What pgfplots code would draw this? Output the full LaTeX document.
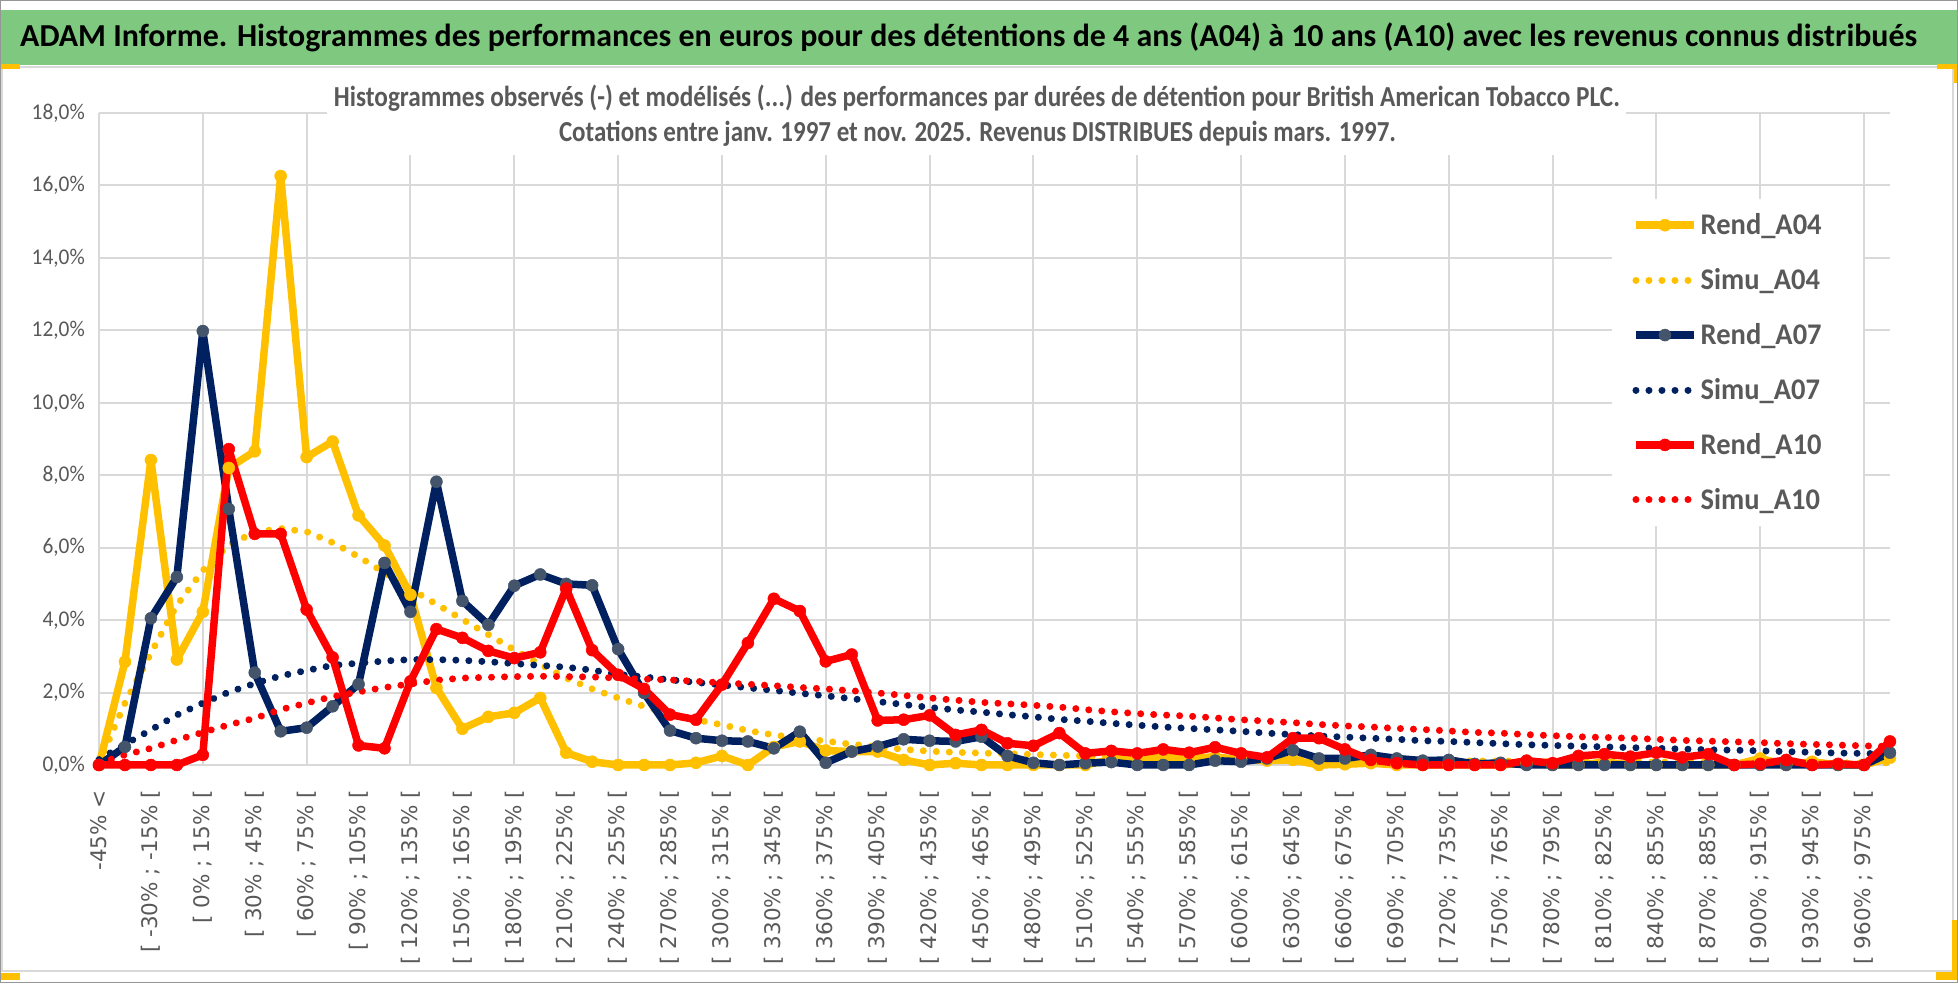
\documentclass[border=0pt]{standalone}
\usepackage{fontspec}
\usepackage{graphicx}
\usepackage{pgfplots}
\usepackage{pgfplotstable}
\pgfplotsset{compat=1.18}
\setmainfont{Carlito}
\newfontfamily\dejavu{DejaVu Sans}
\newfontfamily\legfont{Carlito}[FakeStretch=0.95]
\newfontfamily\yfont{Carlito}[FakeStretch=0.95]
\definecolor{titlegreen}{RGB}{127,200,127}
\definecolor{gridgray}{RGB}{217,217,217}
\definecolor{txtgray}{RGB}{89,89,89}
\definecolor{gold}{RGB}{255,192,0}
\definecolor{navy}{RGB}{0,32,96}
\definecolor{slate}{RGB}{68,84,106}
\definecolor{redx}{RGB}{255,0,0}
\definecolor{framegray}{RGB}{150,150,150}

\pgfplotstableread{
cat r04 s04 r07 s07 r10 s10
0 0.00 0.05 0.00 0.15 0.00 0.05
1 2.85 1.71 0.50 0.57 0.00 0.28
2 8.42 3.09 4.05 0.97 0.00 0.46
3 2.91 4.41 5.19 1.38 0.00 0.69
4 4.23 5.37 11.98 1.71 0.28 0.90
5 8.20 6.08 7.07 2.01 8.72 1.11
6 8.66 6.42 2.55 2.25 6.38 1.29
7 16.26 6.53 0.93 2.46 6.38 1.53
8 8.50 6.44 1.03 2.61 4.29 1.71
9 8.93 6.14 1.62 2.75 2.97 1.89
10 6.89 5.75 2.23 2.81 0.54 2.02
11 6.06 5.31 5.58 2.87 0.46 2.14
12 4.70 4.86 4.23 2.91 2.31 2.24
13 2.13 4.44 7.82 2.91 3.75 2.34
14 1.00 4.02 4.53 2.89 3.51 2.40
15 1.33 3.60 3.87 2.85 3.15 2.42
16 1.44 3.18 4.95 2.80 2.95 2.44
17 1.85 2.78 5.26 2.75 3.11 2.45
18 0.34 2.40 5.00 2.70 4.87 2.44
19 0.09 2.10 4.96 2.62 3.17 2.43
20 0.00 1.85 3.20 2.50 2.49 2.40
21 0.00 1.62 1.99 2.43 2.10 2.37
22 0.00 1.41 0.95 2.35 1.39 2.35
23 0.06 1.25 0.74 2.28 1.25 2.31
24 0.25 1.11 0.67 2.21 2.22 2.27
25 0.00 0.95 0.65 2.13 3.37 2.23
26 0.50 0.83 0.46 2.06 4.59 2.19
27 0.65 0.74 0.92 1.98 4.25 2.14
28 0.40 0.66 0.06 1.91 2.86 2.10
29 0.37 0.57 0.37 1.83 3.05 2.05
30 0.37 0.51 0.51 1.75 1.23 1.99
31 0.14 0.43 0.71 1.67 1.25 1.92
32 0.00 0.38 0.67 1.59 1.37 1.85
33 0.05 0.35 0.65 1.52 0.83 1.79
34 0.00 0.33 0.78 1.46 0.97 1.73
35 0.00 0.31 0.25 1.39 0.60 1.69
36 0.00 0.29 0.06 1.33 0.53 1.65
37 0.00 0.27 0.00 1.26 0.88 1.60
38 0.00 0.25 0.05 1.21 0.32 1.53
39 0.15 0.24 0.08 1.15 0.39 1.47
40 0.22 0.22 0.00 1.10 0.32 1.42
41 0.22 0.21 0.00 1.05 0.43 1.38
42 0.20 0.20 0.00 1.01 0.34 1.35
43 0.22 0.19 0.12 0.97 0.49 1.30
44 0.15 0.18 0.09 0.93 0.32 1.25
45 0.12 0.17 0.18 0.88 0.21 1.21
46 0.14 0.16 0.41 0.84 0.74 1.17
47 0.00 0.15 0.18 0.80 0.74 1.12
48 0.02 0.14 0.18 0.77 0.43 1.08
49 0.05 0.14 0.28 0.74 0.14 1.05
50 0.00 0.13 0.18 0.71 0.05 1.01
51 0.00 0.12 0.12 0.67 0.00 0.98
52 0.00 0.12 0.14 0.65 0.00 0.94
53 0.00 0.11 0.03 0.62 0.00 0.90
54 0.00 0.11 0.06 0.59 0.00 0.88
55 0.05 0.10 0.00 0.56 0.12 0.84
56 0.00 0.10 0.00 0.54 0.05 0.81
57 0.00 0.09 0.00 0.52 0.25 0.78
58 0.08 0.09 0.00 0.50 0.30 0.76
59 0.00 0.09 0.00 0.48 0.23 0.74
60 0.00 0.08 0.00 0.46 0.34 0.71
61 0.00 0.08 0.00 0.44 0.21 0.68
62 0.00 0.08 0.00 0.42 0.30 0.66
63 0.00 0.07 0.00 0.41 0.00 0.64
64 0.18 0.07 0.00 0.39 0.03 0.62
65 0.00 0.07 0.00 0.37 0.14 0.59
66 0.09 0.07 0.00 0.35 0.00 0.57
67 0.00 0.06 0.00 0.33 0.03 0.55
68 0.00 0.06 0.00 0.32 0.00 0.53
69 0.20 0.06 0.34 0.30 0.65 0.51
}\data

\newcommand{\lab}[2]{[ #1\% ; #2\% [}

\begin{document}
\begin{tikzpicture}[x=1bp,y=1bp]
\useasboundingbox (0,0) rectangle (1958,983);
% chart area frame and title bar
\fill[white] (0,0) rectangle (1958,983);
\draw[gridgray, line width=2bp] (2,12) rectangle (1953,916);
\fill[titlegreen] (1.5,918) rectangle (1956.5,973);

\begin{axis}[
  at={(99bp,218bp)}, anchor=south west,
  scale only axis, width=1791bp, height=652bp,
  xmin=0, xmax=69, ymin=0, ymax=18,
  clip=false,
  axis line style={draw=none},
  major tick length=0pt,
  tick style={draw=none},
  ytick={0,2,...,18},
  yticklabels={{0,0\%},{2,0\%},{4,0\%},{6,0\%},{8,0\%},{10,0\%},{12,0\%},{14,0\%},{16,0\%},{18,0\%}},
  ymajorgrids=true,
  major grid style={draw=gridgray, line width=2bp},
  yticklabel style={font=\yfont\fontsize{22.5bp}{26bp}\selectfont, text=txtgray, anchor=east, inner sep=0pt, xshift=-14bp},
  xtick={0,2,...,68},
  xticklabels={{-45\% <},\lab{-30}{-15},\lab{0}{15},\lab{30}{45},\lab{60}{75},\lab{90}{105},\lab{120}{135},\lab{150}{165},\lab{180}{195},\lab{210}{225},\lab{240}{255},\lab{270}{285},\lab{300}{315},\lab{330}{345},\lab{360}{375},\lab{390}{405},\lab{420}{435},\lab{450}{465},\lab{480}{495},\lab{510}{525},\lab{540}{555},\lab{570}{585},\lab{600}{615},\lab{630}{645},\lab{660}{675},\lab{690}{705},\lab{720}{735},\lab{750}{765},\lab{780}{795},\lab{810}{825},\lab{840}{855},\lab{870}{885},\lab{900}{915},\lab{930}{945},\lab{960}{975}},
  xticklabel style={font=\dejavu\fontsize{21.5bp}{25bp}\selectfont, text=txtgray, yshift=-25bp, rotate=90, anchor=east, inner sep=0pt},
  extra x ticks={0,4,...,68},
  extra x tick style={grid=major, xticklabel={}},
  legend style={at={(0.8448,0.868)}, anchor=north west, draw=none, fill=white,
    inner xsep=20bp, inner ysep=12.7bp, row sep=28.4bp, column sep=1bp,
    font=\legfont\bfseries\fontsize{30bp}{34bp}\selectfont, text=txtgray,
    cells={anchor=west, inner sep=0pt}},
  legend image code/.code={\draw[mark repeat=2,mark phase=2,#1] plot coordinates {(0bp,0bp) (29bp,0bp) (58bp,0bp)};},
  every axis plot/.append style={line join=round},
]
\addplot[color=gold, line width=7.5bp, mark=*, mark size=6bp, mark options={solid, fill=gold, draw=gold, line width=0.5bp}] table[x=cat,y=r04] {\data};
\addlegendentry{\makebox[140bp][l]{Rend\_A04}}
\addplot[color=gold, line width=7bp, line cap=round, dash pattern=on 0.01bp off 13bp] table[x=cat,y=s04] {\data};
\addlegendentry{\makebox[140bp][l]{Simu\_A04}}
\addplot[color=navy, line width=7.5bp, mark=*, mark size=6bp, mark options={solid, fill=slate, draw=slate, line width=0.5bp}] table[x=cat,y=r07] {\data};
\addlegendentry{\makebox[140bp][l]{Rend\_A07}}
\addplot[color=navy, line width=7bp, line cap=round, dash pattern=on 0.01bp off 13bp] table[x=cat,y=s07] {\data};
\addlegendentry{\makebox[140bp][l]{Simu\_A07}}
\addplot[color=redx, line width=7.5bp, mark=*, mark size=6bp, mark options={solid, fill=redx, draw=redx, line width=0.5bp}] table[x=cat,y=r10] {\data};
\addlegendentry{\makebox[140bp][l]{Rend\_A10}}
\addplot[color=redx, line width=7bp, line cap=round, dash pattern=on 0.01bp off 13bp] table[x=cat,y=s10] {\data};
\addlegendentry{\makebox[140bp][l]{Simu\_A10}}
\end{axis}

% subtitle box covering gridlines
\fill[white] (327,828) rectangle (1626,913);
\node[anchor=base, inner sep=0pt, text=txtgray] at (977,876)
  {\resizebox{1286bp}{\height}{\fontsize{29bp}{34bp}\selectfont\bfseries Histogrammes observés (-) et modélisés (...) des performances par durées de détention pour British American Tobacco PLC.}};
\node[anchor=base, inner sep=0pt, text=txtgray] at (977.5,841)
  {\resizebox{837bp}{\height}{\fontsize{29bp}{34bp}\selectfont\bfseries Cotations entre janv. 1997 et nov. 2025. Revenus DISTRIBUES depuis mars. 1997.}};
% main title
\node[anchor=base west, inner sep=0pt, text=black] at (20,936)
  {\resizebox{1897bp}{\height}{\fontsize{32bp}{38bp}\selectfont\bfseries ADAM Informe. Histogrammes des performances en euros pour des détentions de 4 ans (A04) à 10 ans (A10) avec les revenus connus distribués}};
% yellow corner marks
\fill[gold] (0,914) rectangle (20,919);
\fill[gold] (1937,914) rectangle (1958,919);
\fill[gold] (1954,900) rectangle (1958,919);
\fill[gold] (0,3) rectangle (20,10);
\fill[gold] (1936,3) rectangle (1958,11);
\fill[gold] (1952,3) rectangle (1958,63);
% outer frame
\draw[framegray, line width=1.5bp] (0.75,0.75) rectangle (1957.25,982.25);
\end{tikzpicture}
\end{document}
